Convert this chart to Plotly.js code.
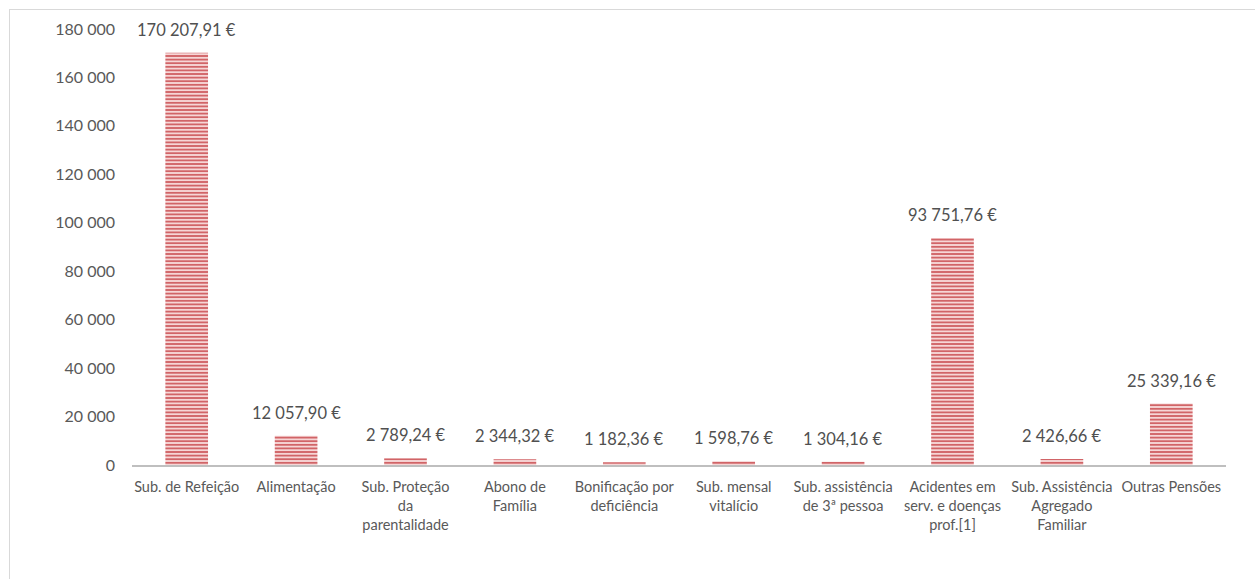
<!DOCTYPE html>
<html>
<head>
<meta charset="utf-8">
<script src="https://cdn.plot.ly/plotly-3.0.1.min.js"></script>
<style>
html,body{margin:0;padding:0;background:#fff;}
#frame{position:absolute;left:9px;top:9px;width:1260px;height:580px;border:1px solid #d9d9d9;box-sizing:border-box;}
#chart{position:absolute;left:0;top:0;width:1255px;height:579px;}
</style>
</head>
<body>
<div id="frame"></div>
<div id="chart"></div>
<script>
const categories = [
  "Sub. de Refeição",
  "Alimentação",
  "Sub. Proteção<br>da<br>parentalidade",
  "Abono de<br>Família",
  "Bonificação por<br>deficiência",
  "Sub. mensal<br>vitalício",
  "Sub. assistência<br>de 3ª pessoa",
  "Acidentes em<br>serv. e doenças<br>prof.[1]",
  "Sub. Assistência<br>Agregado<br>Familiar",
  "Outras Pensões"
];
const values = [170207.91, 12057.90, 2789.24, 2344.32, 1182.36, 1598.76, 1304.16, 93751.76, 2426.66, 25339.16];
const yTicks = [0, 20000, 40000, 60000, 80000, 100000, 120000, 140000, 160000, 180000];

const fontFam = "Lato, 'Open Sans', sans-serif";
const trace = {
  type: 'bar',
  x: categories,
  y: values,
  marker: {
    color: '#f5d2d2',
    line: {width: 0},
    pattern: {shape: '-', fgcolor: '#cd575a', bgcolor: '#f6d6d6', size: 3.6, solidity: 0.45}
  },
  hoverinfo: 'none'
};
function fmt(v) {
  const parts = v.toFixed(2).split('.');
  const intPart = parts[0].replace(/\B(?=(\d{3})+(?!\d))/g, ' ');
  return intPart + ',' + parts[1] + ' €';
}
const annotations = categories.map((c, i) => ({
  x: c, y: values[i], xref: 'x', yref: 'y',
  text: fmt(values[i]),
  showarrow: false, yanchor: 'bottom', xanchor: 'center', yshift: 11,
  font: {family: fontFam, size: 16.5, color: '#505050'}
}));
const layout = {
  width: 1255, height: 579,
  margin: {l: 132, r: 29, t: 29, b: 114},
  paper_bgcolor: 'rgba(0,0,0,0)',
  plot_bgcolor: 'rgba(0,0,0,0)',
  separators: ', ',
  bargap: 0.61,
  showlegend: false,
  annotations: annotations,
  font: {family: fontFam, size: 14.5, color: '#595959'},
  xaxis: {
    type: 'category',
    showline: true, linecolor: '#bfbfbf', linewidth: 2,
    showgrid: false, ticks: '', tickangle: 0,
    ticklabelstandoff: 8,
    tickfont: {family: fontFam, size: 14.5, color: '#595959'}
  },
  yaxis: {
    range: [0, 180000],
    tickvals: yTicks,
    tickformat: ',d',
    showgrid: false, zeroline: false, showline: false, ticks: '',
    ticklabelstandoff: 16,
    tickfont: {family: fontFam, size: 16, color: '#595959'}
  }
};
Plotly.newPlot('chart', [trace], layout, {displayModeBar: false, staticPlot: true});
</script>
</body>
</html>
